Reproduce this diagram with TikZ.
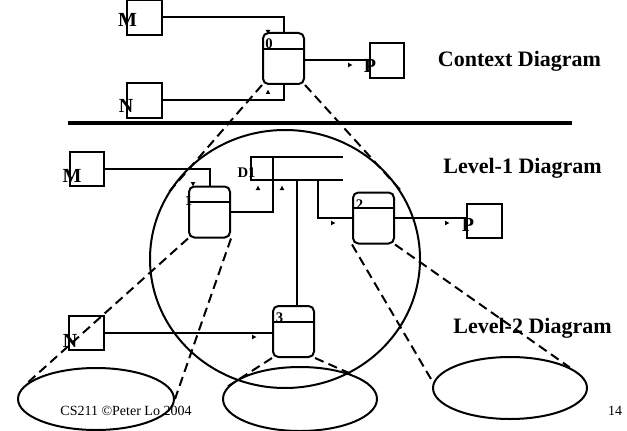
\documentclass[tikz,border=0pt]{standalone}
\usepackage{fontspec}
\setmainfont{Liberation Serif}
\usetikzlibrary{shapes.geometric}

\begin{document}
\begin{tikzpicture}
  [x=0.75pt, y=-0.75pt, line width=1.5pt,
   ext/.style={draw, minimum size=26pt, inner sep=0},
   proc/.style={draw, rounded corners=4pt, minimum width=30.75pt, minimum height=38.25pt, inner sep=0},
   blob/.style={draw, ellipse, inner sep=0},
   fan/.style={dash pattern=on 7pt off 4pt},
   lbl/.style={font=\bfseries\fontsize{15}{17}\selectfont, inner sep=0, anchor=base},
   num/.style={font=\bfseries\fontsize{11}{13}\selectfont, inner sep=0, anchor=base},
   head/.style={font=\bfseries\fontsize{16.5}{19}\selectfont, inner sep=0, anchor=base},
   foot/.style={font=\fontsize{10.5}{12}\selectfont, inner sep=0, anchor=base},
   arrowmark/.pic={\fill (1.8pt,0) -- (-1.5pt,1.7pt) -- (-1.5pt,-1.7pt) -- cycle;}]
   \useasboundingbox (0,0) rectangle (627,431);

   \node[blob, minimum width=202.5pt, minimum height=193.5pt] (c_1) at (285,259) {};
   \node[blob, minimum width=117pt, minimum height=46.5pt] (e_1) at (96,399) {};
   \node[blob, minimum width=115.5pt, minimum height=48pt] (e_2) at (300,399) {};
   \node[blob, minimum width=115.5pt, minimum height=46.5pt] (e_3) at (510,388) {};

   \node[ext] (m_0) at (144.5,17.5) {};
   \node[ext] (n_0) at (144.5,100.5) {};
   \node[ext] (x_0) at (387,60.5) {};
   \node[ext] (m_1) at (87,169) {};
   \node[ext] (n_1) at (86.5,333) {};
   \node[ext] (x_1) at (484.5,221) {};

   \node[proc] (p_0) at (283.5,58.5) {};
   \node[proc] (p_1) at (209.5,212) {};
   \node[proc] (p_2) at (373.5,218) {};
   \node[proc] (p_3) at (293.5,331.5) {};
   \foreach \p in {p_0,p_1,p_2,p_3}
     \draw ([yshift=-12.5pt]\p.north west) -- ([yshift=-12.5pt]\p.north east);

   \node[minimum width=67.5pt, minimum height=15.75pt, inner sep=0] (d_1) at (297,168.5) {};
   \draw (d_1.north east) -- (d_1.north west) -- (d_1.south west) -- (d_1.south east);
   \coordinate (d_2) at ([xshift=50.25pt]d_1.south west);
   \coordinate (d_3) at ([xshift=34.5pt]d_1.south west);

   \node[lbl] (l_m0) at (127.5,27) {M};
   \node[lbl] (l_n0) at (126,113) {N};
   \node[lbl] (l_x0) at (370,73) {P};
   \node[lbl] (l_m1) at (72,182) {M};
   \node[lbl] (l_n1) at (70,347) {N};
   \node[lbl] (l_x1) at (468,231) {P};
   \node[num] (l_p0) at (269,49) {0};
   \node[num] (l_p1) at (188.5,205) {1};
   \node[num] (l_p2) at (359.5,209) {2};
   \node[num] (l_p3) at (279.5,322) {3};
   \node[num] (l_d1) at (246.5,177) {D1};

   \node[head] (t_0) at (519.5,67) {Context Diagram};
   \node[head] (t_1) at (522.5,173) {Level-1 Diagram};
   \node[head] (t_2) at (532.5,333) {Level-2 Diagram};
   \node[foot] (f_1) at (126,415) {CS211 \textcopyright Peter Lo 2004};
   \node[foot] (f_2) at (615,415) {14};

   \draw[line width=3pt] (68,123) -- (572,123);

   \draw (m_0.east) -| (p_0.north);
   \draw (n_0.east) -| (p_0.south);
   \draw (p_0.east |- x_0.west) -- (x_0.west);
   \draw (m_1.east) -| (p_1.north);
   \draw (p_1.east) -| ([xshift=16.5pt]d_1.north west);
   \draw (d_3) -- (d_3 |- p_3.north);
   \draw (d_2) |- (p_2.west);
   \draw (p_2.east) -- (p_2.east -| x_1.west);
   \draw (n_1.east) -- (n_1.east -| p_3.west);

   \draw[fan] (p_0.south west) -- (c_1.151);
   \draw[fan] (p_0.south east) -- (c_1.31);
   \draw[fan] (p_1.south west) -- (e_1.168);
   \draw[fan] (p_1.south east) -- (e_1.east);
   \draw[fan] (p_3.south west) -- (e_2.170);
   \draw[fan] (p_3.south east) -- (e_2.24);
   \draw[fan] (p_2.south west) -- (e_3.176);
   \draw[fan] (p_2.south east) -- (e_3.19);

   \foreach \x/\y/\r in {268/32/-90, 268/92/90, 350/65/0, 193/184/-90,
                         258/188/90, 282/188/90, 333/223/0, 447/223/0, 254/337/0}
     \pic[rotate=\r] at (\x,\y) {arrowmark};
\end{tikzpicture}
\end{document}
